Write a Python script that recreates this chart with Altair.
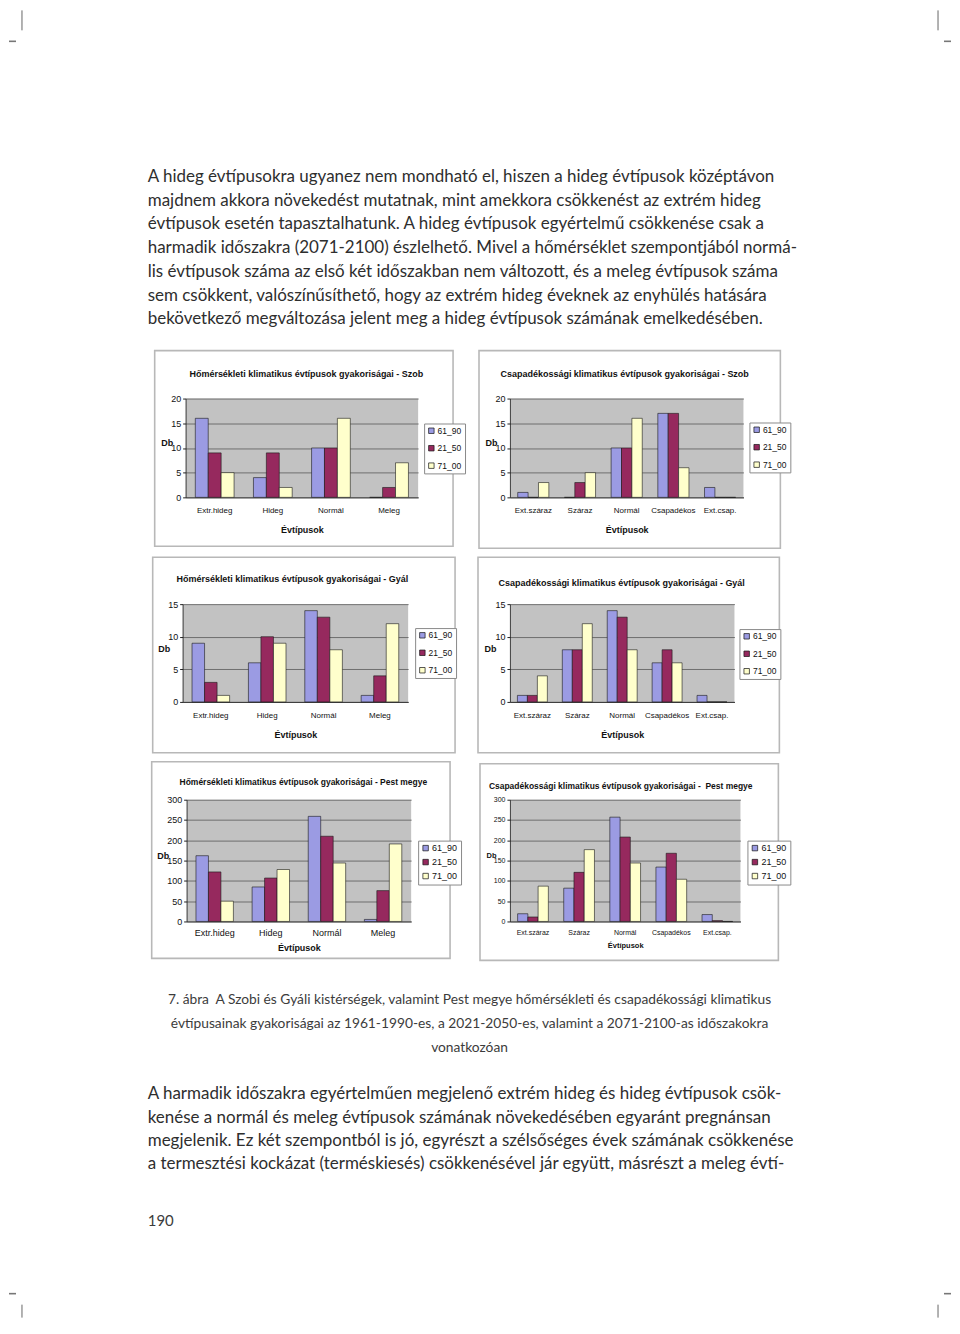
import altair as alt
import pandas as pd

# ---------------- data ----------------
series = ["61_90", "21_50", "71_00"]
temp_types = ["Extr.hideg", "Hideg", "Normál", "Meleg"]
precip_types = ["Ext.száraz", "Száraz", "Normál", "Csapadékos", "Ext.csap."]

szob_temp_61_90 = [16, 4, 10, 0]
szob_temp_21_50 = [9, 9, 10, 2]
szob_temp_71_00 = [5, 2, 16, 7]

szob_prec_61_90 = [1, 0, 10, 17, 2]
szob_prec_21_50 = [0, 3, 10, 17, 0]
szob_prec_71_00 = [3, 5, 16, 6, 0]

gyal_temp_61_90 = [9, 6, 14, 1]
gyal_temp_21_50 = [3, 10, 13, 4]
gyal_temp_71_00 = [1, 9, 8, 12]

gyal_prec_61_90 = [1, 8, 14, 6, 1]
gyal_prec_21_50 = [1, 8, 13, 8, 0]
gyal_prec_71_00 = [4, 12, 8, 6, 0]

pest_temp_61_90 = [162, 85, 259, 5]
pest_temp_21_50 = [122, 107, 210, 76]
pest_temp_71_00 = [50, 128, 144, 191]

pest_prec_61_90 = [19, 82, 257, 134, 17]
pest_prec_21_50 = [11, 121, 208, 168, 2]
pest_prec_71_00 = [87, 177, 144, 104, 0]

titles = [
    "Hőmérsékleti klimatikus évtípusok gyakoriságai - Szob",
    "Csapadékossági klimatikus évtípusok gyakoriságai - Szob",
    "Hőmérsékleti klimatikus évtípusok gyakoriságai - Gyál",
    "Csapadékossági klimatikus évtípusok gyakoriságai - Gyál",
    "Hőmérsékleti klimatikus évtípusok gyakoriságai - Pest megye",
    "Csapadékossági klimatikus évtípusok gyakoriságai -\u00a0 Pest megye",
]
y_title = "Db"
x_title = "Évtípusok"

para1 = [
    "A hideg évtípusokra ugyanez nem mondható el, hiszen a hideg évtípusok középtávon",
    "majdnem akkora növekedést mutatnak, mint amekkora csökkenést az extrém hideg",
    "évtípusok esetén tapasztalhatunk. A hideg évtípusok egyértelmű csökkenése csak a",
    "harmadik időszakra (2071-2100) észlelhető. Mivel a hőmérséklet szempontjából normá-",
    "lis évtípusok száma az első két időszakban nem változott, és a meleg évtípusok száma",
    "sem csökkent, valószínűsíthető, hogy az extrém hideg éveknek az enyhülés hatására",
    "bekövetkező megváltozása jelent meg a hideg évtípusok számának emelkedésében.",
]
caption = [
    "7. ábra\u00a0 A Szobi és Gyáli kistérségek, valamint Pest megye hőmérsékleti és csapadékossági klimatikus",
    "évtípusainak gyakoriságai az 1961-1990-es, a 2021-2050-es, valamint a 2071-2100-as időszakokra",
    "vonatkozóan",
]
para2 = [
    "A harmadik időszakra egyértelműen megjelenő extrém hideg és hideg évtípusok csök-",
    "kenése a normál és meleg évtípusok számának növekedésében egyaránt pregnánsan",
    "megjelenik. Ez két szempontból is jó, egyrészt a szélsőséges évek számának csökkenése",
    "a termesztési kockázat (terméskiesés) csökkenésével jár együtt, másrészt a meleg évtí-",
]
page_number = ["190"]

# ---------------- styles ----------------
CF = "Liberation Sans, Arial, sans-serif"
BODY = "Lato"
COLORS = ["#9b9be3", "#96295e", "#ffffcc"]
ONE = pd.DataFrame({"t": [""]})


def panel(cats, vals, title, L):
    px, py, w, h = L["plot"]
    rows = []
    for s, v in zip(series, vals):
        for c, x in zip(cats, v):
            rows.append({"cat": c, "series": s, "val": x})
    df = pd.DataFrame(rows)
    fl, ft, fr, fb = L["frame"]
    frame = alt.Chart(ONE).mark_rect(fillOpacity=0, stroke="#b8b8b8", strokeWidth=1.6).encode(
        x=alt.value(fl - px), x2=alt.value(fr - px), y=alt.value(ft - py), y2=alt.value(fb - py)
    )
    bars = alt.Chart(df).mark_bar(stroke="#1a1a1a", strokeWidth=0.6).encode(
        x=alt.X(
            "cat:N",
            sort=cats,
            scale=alt.Scale(domain=cats, paddingInner=1 / 3, paddingOuter=1 / 6),
            axis=alt.Axis(
                title=x_title, titleFont=CF, titleFontSize=L["tfs"], titleFontWeight="bold",
                titleColor="#111", titleY=L["xty"], titleBaseline="middle",
                labelAngle=0, labelFont=CF, labelFontSize=L["lfs"], labelColor="#111",
                labelPadding=L["xlp"], labelOverlap=False, labelLimit=200,
                ticks=False, domainColor="#222", domainWidth=0.8, grid=False,
            ),
        ),
        xOffset=alt.XOffset("series:N", sort=series,
                            scale=alt.Scale(domain=series, paddingInner=0, paddingOuter=0)),
        y=alt.Y(
            "val:Q",
            scale=alt.Scale(domain=[0, L["ymax"]], nice=False, zero=True),
            axis=alt.Axis(
                title=y_title, titleAngle=0, titleX=L["db"][0] - px, titleY=L["db"][1] - py,
                titleAlign="center", titleBaseline="middle", titleFont=CF,
                titleFontSize=L["tfs"], titleFontWeight="bold", titleColor="#111",
                values=list(range(0, L["ymax"] + 1, L["step"])), format="d",
                grid=True, gridColor="#4a4a4a", gridWidth=0.7,
                domainColor="#222", domainWidth=0.8, tickColor="#222", tickSize=3,
                labelFont=CF, labelFontSize=L["yfs"], labelColor="#111", labelPadding=2,
            ),
        ),
        color=alt.Color(
            "series:N",
            sort=series,
            scale=alt.Scale(domain=series, range=COLORS),
            legend=alt.Legend(
                orient="none", legendX=L["leg"][0] - px, legendY=L["leg"][1] - py, title=None,
                direction="vertical", symbolType="square", symbolSize=L["ss"],
                symbolStrokeColor="#111", symbolStrokeWidth=0.7,
                labelFont=CF, labelFontSize=L["legfs"], labelColor="#111",
                labelOffset=2, rowPadding=L["rp"], padding=3,
                strokeColor="#8a8a8a", fillColor="#ffffff",
            ),
        ),
    )
    ttl = alt.Chart(pd.DataFrame({"t": [title]})).mark_text(
        font=CF, fontSize=L["titfs"], fontWeight="bold", color="#111",
        align="center", baseline="middle",
    ).encode(x=alt.value(L["title"][0] - px), y=alt.value(L["title"][1] - py), text="t:N")
    return alt.layer(frame, bars, ttl).properties(
        width=w, height=h, view=alt.ViewBackground(fill="#c2c2c2", stroke=None)
    )


small = dict(tfs=9, lfs=8, yfs=9, legfs=8.5, titfs=9, ss=30, rp=8.5, step=5)
L1 = dict(small, plot=(185, 397, 233, 99), ymax=20, frame=(154, 349, 453, 545),
          title=(306, 372), leg=(424, 422), db=(166, 441), xty=32, xlp=9)
L2 = dict(small, plot=(510, 397, 234, 99), ymax=20, frame=(479, 349, 781, 547),
          title=(625, 372), leg=(750, 421), db=(491, 441), xty=32, xlp=9)
L3 = dict(small, plot=(182, 603, 226, 98), ymax=15, frame=(152, 556, 455, 752),
          title=(292, 578), leg=(415, 627), db=(163, 647), xty=33, xlp=10)
L4 = dict(small, plot=(510, 603, 225, 98), ymax=15, frame=(478, 556, 780, 752),
          title=(622, 582), leg=(740, 628), db=(490, 647), xty=33, xlp=10)
L5 = dict(tfs=9, lfs=9, yfs=9, legfs=9, titfs=8.5, ss=30, rp=4,
          step=50, plot=(186, 799, 225, 122), ymax=300, frame=(151, 761, 450, 958),
          title=(303, 781), leg=(418, 840), db=(162, 855), xty=26, xlp=7)
L6 = dict(tfs=7.5, lfs=7, yfs=7, legfs=9, titfs=8.5, ss=30, rp=4,
          step=50, plot=(510, 799, 231, 122), ymax=300, frame=(480, 763, 779, 960),
          title=(621, 785), leg=(748, 840), db=(491, 855), xty=24, xlp=7)

p1 = panel(temp_types, [szob_temp_61_90, szob_temp_21_50, szob_temp_71_00], titles[0], L1)
p2 = panel(precip_types, [szob_prec_61_90, szob_prec_21_50, szob_prec_71_00], titles[1], L2)
p3 = panel(temp_types, [gyal_temp_61_90, gyal_temp_21_50, gyal_temp_71_00], titles[2], L3)
p4 = panel(precip_types, [gyal_prec_61_90, gyal_prec_21_50, gyal_prec_71_00], titles[3], L4)
p5 = panel(temp_types, [pest_temp_61_90, pest_temp_21_50, pest_temp_71_00], titles[4], L5)
p6 = panel(precip_types, [pest_prec_61_90, pest_prec_21_50, pest_prec_71_00], titles[5], L6)

OX, OY = 8, 8  # page margin


def blank(w, h):
    return alt.Chart(ONE).mark_point(opacity=0, size=1).properties(width=w, height=h)


def rule(x1, x2, y1, y2, color, width):
    return alt.Chart(ONE).mark_rule(color=color, strokeWidth=width).encode(
        x=alt.value(x1), x2=alt.value(x2), y=alt.value(y1), y2=alt.value(y2)
    )


def text_block(lines, x, y0, y1, size, color, align="left"):
    df = pd.DataFrame({"i": list(range(len(lines))), "line": lines})
    n = max(len(lines) - 1, 1)
    return alt.Chart(df).mark_text(
        align=align, baseline="middle", font=BODY, fontSize=size, color=color
    ).encode(
        x=alt.value(x),
        y=alt.Y("i:Q", scale=alt.Scale(domain=[0, n], range=[y0, y1]), axis=None),
        text="line:N",
    )


top = alt.layer(
    text_block(para1, 147 - OX, 175 - OY, 317.5 - OY, 17, "#2e2e2e"),
    rule(21 - OX, 21 - OX, 0, 28 - OY, "#555", 0.9),
    rule(0, 15 - OX, 39 - OY, 39 - OY, "#777", 1.6),
    rule(939 - OX, 939 - OX, 0, 28 - OY, "#555", 0.9),
    rule(945 - OX, 944, 39 - OY, 39 - OY, "#777", 1.6),
).resolve_scale(y="independent").properties(width=944, height=389)

BY = 921  # page y of bottom block
bottom = alt.layer(
    text_block(caption, 469.5 - OX, 1000 - BY, 1048 - BY, 13.8, "#3c3c3c", align="center"),
    text_block(para2, 147 - OX, 1094 - BY, 1164.5 - BY, 17, "#2e2e2e"),
    text_block(page_number, 147 - OX, 1221 - BY, 1221 - BY, 15, "#3c3c3c"),
    rule(0, 15 - OX, 1294 - BY, 1294 - BY, "#777", 1.6),
    rule(945 - OX, 944, 1294 - BY, 1294 - BY, "#777", 1.6),
    rule(21 - OX, 21 - OX, 1305 - BY, 397, "#555", 0.9),
    rule(939 - OX, 939 - OX, 1305 - BY, 397, "#555", 0.9),
).resolve_scale(y="independent").properties(width=944, height=397)


def row(a, b, La, Lb):
    # left gutter so that the plots land on their page x positions
    xa, wa = La["plot"][0] - OX, La["plot"][2]
    xb = Lb["plot"][0] - OX
    gap = xb - xa - wa
    return alt.hconcat(blank(xa - gap, 4), a, b, spacing=gap, bounds="flush").resolve_scale(
        color="independent", xOffset="independent", x="independent", y="independent"
    ).resolve_legend(color="independent")


row1 = row(p1, p2, L1, L2)
row2 = row(p3, p4, L3, L4)
row3 = row(p5, p6, L5, L6)

# nested rows take no height in a flush layout, so the spacers carry the row heights
chart = alt.vconcat(
    top,
    row1, blank(10, L3["plot"][1] - L1["plot"][1]),
    row2, blank(10, L5["plot"][1] - L3["plot"][1]),
    row3, blank(10, BY - L5["plot"][1]),
    bottom,
    spacing=0, bounds="flush",
).resolve_scale(
    color="independent", xOffset="independent", x="independent", y="independent"
).resolve_legend(color="independent").properties(padding=0, background="#ffffff").configure_view(
    stroke=None
)

chart.save("out.html", embed_options={"renderer": "svg", "actions": False})
